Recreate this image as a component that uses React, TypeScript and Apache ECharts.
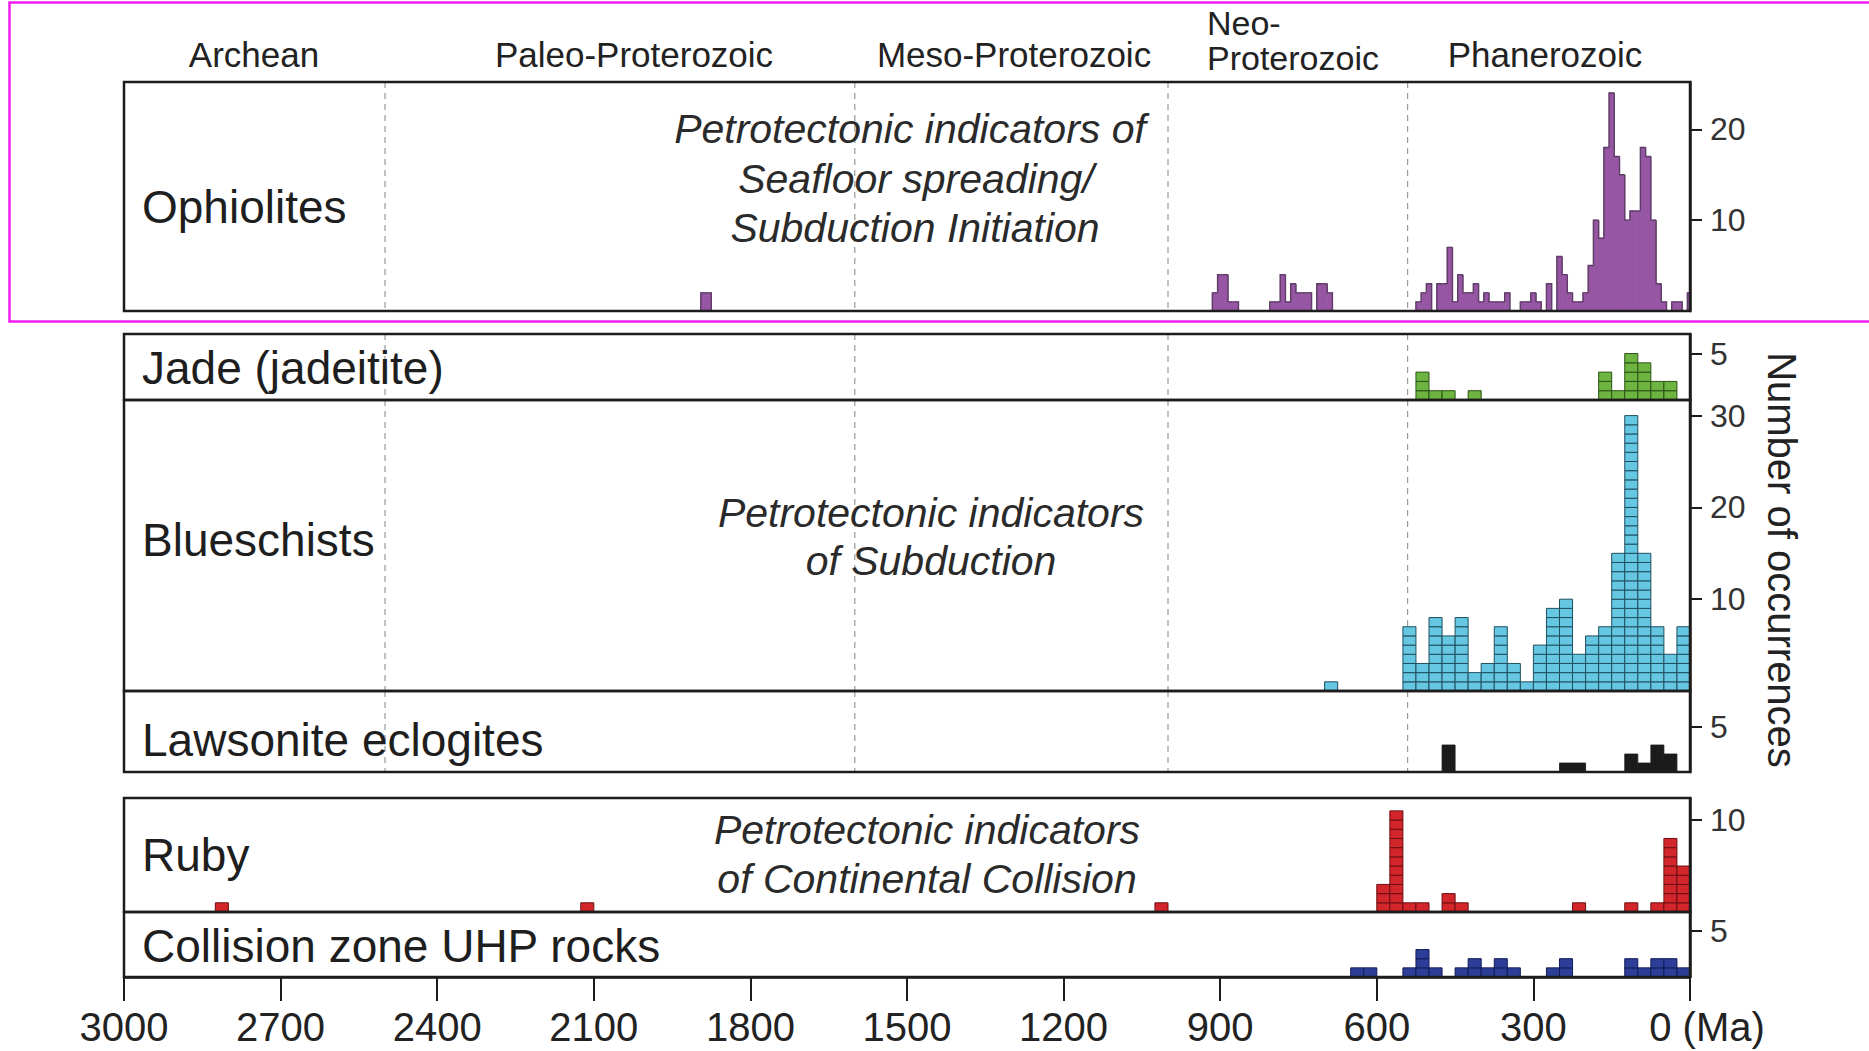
import React, { useEffect, useRef } from "react";
import * as echarts from "echarts";

const FONT = "'Liberation Sans', Arial, Helvetica, sans-serif";
const INK = "#1c1c1c";

// ---------- data ----------
const eraNames = ["Archean", "Paleo-Proterozoic", "Meso-Proterozoic", "Neo-", "Proterozoic", "Phanerozoic"];
const eraBoundaries = [2500, 1600, 1000, 541];

const panelNames = ["Ophiolites", "Jade (jadeitite)", "Blueschists", "Lawsonite eclogites", "Ruby", "Collision zone UHP rocks"];
const panelYMax = [25.2, 7.1, 31.7, 9.0, 12.4, 7.1];
const panelTicks = [[10, 20], [5], [10, 20, 30], [5], [10], [5]];

// Ophiolites: 10 Ma bins, bin centre ages (Ma) and counts
const OPH_BIN = 10;
const ophioliteAge = [
  1890, 1880,
  910, 900, 890, 880, 870, 800, 790, 780, 770, 760, 750, 740, 730, 710, 700, 690,
  520, 510, 500, 480, 470, 460, 450, 440, 430, 420, 410, 400, 390, 380, 370, 360, 350,
  320, 310, 300, 290, 270, 250, 240, 230, 220, 210, 200, 190, 180, 170, 160, 150, 140,
  130, 120, 110, 100, 90, 80, 70, 60, 50, 30, 20, 0,
];
const ophioliteCount = [
  2, 2,
  2, 4, 4, 1, 1, 1, 1, 4, 1, 3, 2, 2, 2, 3, 3, 2,
  1, 2, 3, 3, 3, 7, 1, 4, 2, 2, 3, 1, 2, 1, 1, 1, 2,
  1, 1, 2, 1, 3, 6, 4, 2, 1, 1, 2, 5, 10, 8, 18, 24, 17,
  15, 10, 11, 11, 18, 17, 10, 3, 1, 1, 1, 2,
];

// Other records: 25 Ma bins, younger edge of each bin (Ma) and counts
const BIN = 25;
const jadeAge = [500, 475, 450, 400, 150, 125, 100, 75, 50, 25];
const jadeCount = [3, 1, 1, 1, 3, 1, 5, 4, 2, 2];

const blueschistAge = [675, 525, 500, 475, 450, 425, 400, 375, 350, 325, 300, 275, 250, 225, 200, 175, 150, 125, 100, 75, 50, 25, 0];
const blueschistCount = [1, 7, 3, 8, 6, 8, 2, 3, 7, 3, 1, 5, 9, 10, 4, 6, 7, 15, 30, 15, 7, 4, 7];

const lawsoniteAge = [450, 225, 200, 100, 75, 50, 25];
const lawsoniteCount = [3, 1, 1, 2, 1, 3, 2];

const rubyAge = [2800, 2100, 1000, 575, 550, 525, 500, 450, 425, 200, 100, 50, 25, 0];
const rubyCount = [1, 1, 1, 3, 11, 1, 1, 2, 1, 1, 1, 1, 8, 5];

const uhpAge = [625, 600, 525, 500, 475, 425, 400, 375, 350, 325, 250, 225, 100, 75, 50, 25, 0];
const uhpCount = [1, 1, 1, 3, 1, 1, 2, 1, 2, 1, 1, 2, 2, 1, 2, 2, 1];

// ---------- layout ----------
const W = 1869;
const H = 1051;
const GRID_LEFT = 124;
const GRID_RIGHT = W - 1690;
const panelTop = [82, 334, 400, 691, 798, 912];
const panelHeight = [229, 66, 291, 81, 114, 65];
const panelLabelY = [207, 368, 540, 740, 855, 946];

function cellRenderer(fill: string, stroke: string, solid: boolean) {
  return (params: any, api: any) => {
    const a0 = api.value(0);
    const a1 = api.value(1);
    const n = api.value(2);
    const children: any[] = [];
    if (solid) {
      const p0 = api.coord([a0, 0]);
      const p1 = api.coord([a1, n]);
      children.push({
        type: "rect",
        shape: { x: Math.min(p0[0], p1[0]), y: Math.min(p0[1], p1[1]), width: Math.abs(p1[0] - p0[0]), height: Math.abs(p1[1] - p0[1]) },
        style: { fill, stroke, lineWidth: 0.8 },
      });
    } else {
      for (let k = 0; k < n; k++) {
        const p0 = api.coord([a0, k]);
        const p1 = api.coord([a1, k + 1]);
        children.push({
          type: "rect",
          shape: { x: Math.min(p0[0], p1[0]), y: Math.min(p0[1], p1[1]), width: Math.abs(p1[0] - p0[0]), height: Math.abs(p1[1] - p0[1]) },
          style: { fill, stroke, lineWidth: 1 },
        });
      }
    }
    return { type: "group", children };
  };
}

const ophMap = new Map<number, number>(ophioliteAge.map((a, i) => [a, ophioliteCount[i]]));

function ophioliteRenderer(params: any, api: any) {
  const young = api.value(0);
  const old = api.value(1);
  const h = api.value(2);
  const c = Math.round((young + old) / 2);
  const hOld = ophMap.get(c + OPH_BIN) || 0;
  const hYoung = ophMap.get(c - OPH_BIN) || 0;
  const pOld0 = api.coord([old, 0]);
  const pYoungH = api.coord([young, h]);
  const pts = [api.coord([old, hOld]), api.coord([old, h]), api.coord([young, h])];
  if (hYoung === 0) pts.push(api.coord([young, 0]));
  return {
    type: "group",
    children: [
      {
        type: "rect",
        shape: { x: pOld0[0], y: pYoungH[1], width: pYoungH[0] - pOld0[0], height: pOld0[1] - pYoungH[1] },
        style: { fill: "#9656a3", stroke: "#9656a3", lineWidth: 0.8 },
      },
      {
        type: "polyline",
        z2: 5,
        shape: { points: pts },
        style: { fill: "none", stroke: "#5e3d66", lineWidth: 1.4 },
      },
    ],
  };
}

function boundaryRenderer(params: any, api: any) {
  const x = api.coord([api.value(0), 0])[0];
  const cs = params.coordSys;
  return {
    type: "line",
    shape: { x1: x, y1: cs.y, x2: x, y2: cs.y + cs.height },
    style: { stroke: "#9a9a9a", lineWidth: 1.2, lineDash: [6, 5] },
  };
}

function buildOption() {
  const grid = panelTop.map((t, i) => ({
    left: GRID_LEFT,
    right: GRID_RIGHT,
    top: t,
    height: panelHeight[i],
    show: true,
    borderColor: INK,
    borderWidth: 2.5,
    backgroundColor: "rgba(0,0,0,0)",
    z: 10,
  }));

  const xAxis = panelTop.map((_, i) => ({
    type: "value",
    gridIndex: i,
    min: 0,
    max: 3000,
    interval: 300,
    inverse: true,
    show: i === panelTop.length - 1,
    z: 10,
    axisLine: { show: true, lineStyle: { color: INK, width: 2.5 } },
    axisTick: { show: true, inside: false, length: 24, lineStyle: { color: INK, width: 2 } },
    axisLabel: {
      show: true,
      showMinLabel: true,
      showMaxLabel: true,
      fontSize: 40,
      fontFamily: FONT,
      color: "#222",
      margin: 30,
      formatter: (v: number) => (v === 0 ? "{ma|0 (Ma)}" : String(v)),
      rich: { ma: { fontSize: 40, fontFamily: FONT, color: "#222", padding: [0, 0, 0, 34] } },
    },
    splitLine: { show: false },
  }));

  const yAxis = panelTop.map((_, i) => ({
    type: "value",
    gridIndex: i,
    position: "right",
    min: 0,
    max: panelYMax[i],
    z: 10,
    axisLine: { show: true, lineStyle: { color: INK, width: 2.5 } },
    axisTick: { show: true, inside: false, length: 12, customValues: panelTicks[i], lineStyle: { color: INK, width: 2 } },
    axisLabel: { show: true, customValues: panelTicks[i], fontSize: 32, fontFamily: FONT, color: "#333", margin: 20 },
    splitLine: { show: false },
  }));

  const series: any[] = [];
  for (let i = 0; i < 4; i++) {
    series.push({
      type: "custom",
      name: "boundary" + i,
      xAxisIndex: i,
      yAxisIndex: i,
      z: 1,
      silent: true,
      data: eraBoundaries.map((b) => [b, 0]),
      encode: { x: 0, y: 1 },
      renderItem: boundaryRenderer,
    });
  }
  series.push({
    type: "custom",
    name: "Ophiolites",
    xAxisIndex: 0,
    yAxisIndex: 0,
    clip: true,
    z: 3,
    data: ophioliteAge.map((a, i) => [a - OPH_BIN / 2, a + OPH_BIN / 2, ophioliteCount[i]]),
    encode: { x: [0, 1], y: 2 },
    renderItem: ophioliteRenderer,
  });
  const cellSets: [string, number[], number[], number, string, string, boolean][] = [
    ["Jade", jadeAge, jadeCount, 1, "#6db440", "#2d5218", false],
    ["Blueschists", blueschistAge, blueschistCount, 2, "#66c7e3", "#1e4f5e", false],
    ["Lawsonite eclogites", lawsoniteAge, lawsoniteCount, 3, "#1b1b1b", "#1b1b1b", true],
    ["Ruby", rubyAge, rubyCount, 4, "#d3262b", "#6c0e12", false],
    ["UHP", uhpAge, uhpCount, 5, "#2c3e98", "#121b57", false],
  ];
  for (const [name, ages, counts, gi, fill, stroke, solid] of cellSets) {
    series.push({
      type: "custom",
      name,
      xAxisIndex: gi,
      yAxisIndex: gi,
      clip: true,
      z: 3,
      data: ages.map((a, i) => [a, a + BIN, counts[i]]),
      encode: { x: [0, 1], y: 2 },
      renderItem: cellRenderer(fill, stroke, solid),
    });
  }

  const textStyle = (size: number, extra: any = {}) => ({ fontSize: size, fontFamily: FONT, fill: "#1e1e1e", ...extra });

  const eraPos: [number, number, string, number][] = [
    [254, 54, "center", 35],
    [634, 54, "center", 35],
    [1014, 54, "center", 35],
    [1207, 23, "left", 34],
    [1207, 58, "left", 34],
    [1545, 54, "center", 35],
  ];

  const graphic: any[] = [
    {
      type: "rect",
      shape: { x: 9.5, y: 2.5, width: 1890, height: 319 },
      style: { fill: "none", stroke: "#f01ef0", lineWidth: 2.5 },
      z: 100,
      silent: true,
    },
  ];
  eraNames.forEach((name, i) => {
    graphic.push({
      type: "text",
      x: eraPos[i][0],
      y: eraPos[i][1],
      style: textStyle(eraPos[i][3], { text: name, align: eraPos[i][2], verticalAlign: "middle", fill: "#222" }),
    });
  });
  panelNames.forEach((name, i) => {
    graphic.push({
      type: "text",
      x: 142,
      y: panelLabelY[i],
      z: 20,
      style: textStyle(46, { text: name, align: "left", verticalAlign: "middle" }),
    });
  });
  const italicLines: [string, number, number][] = [
    ["Petrotectonic indicators of", 910, 129],
    ["Seafloor spreading/", 916, 179],
    ["Subduction Initiation", 915, 228],
    ["Petrotectonic indicators", 931, 513],
    ["of Subduction", 931, 561],
    ["Petrotectonic indicators", 927, 830],
    ["of Continental Collision", 927, 879],
  ];
  italicLines.forEach(([t, x, y]) => {
    graphic.push({
      type: "text",
      x,
      y,
      z: 20,
      style: textStyle(41, { text: t, align: "center", verticalAlign: "middle", fontStyle: "italic", fill: "#2a2a2a" }),
    });
  });
  graphic.push({
    type: "text",
    x: 1782,
    y: 560,
    rotation: -Math.PI / 2,
    style: textStyle(40, { text: "Number of occurrences", align: "center", verticalAlign: "middle", fill: "#222" }),
  });

  return {
    animation: false,
    backgroundColor: "#ffffff",
    textStyle: { fontFamily: FONT },
    grid,
    xAxis,
    yAxis,
    series,
    graphic,
  };
}

export default function App() {
  const ref = useRef<HTMLDivElement>(null);
  useEffect(() => {
    if (!ref.current) return;
    const chart = echarts.init(ref.current, undefined, { renderer: "svg", width: W, height: H });
    chart.setOption(buildOption() as any);
    return () => {
      chart.dispose();
    };
  }, []);
  return <div ref={ref} style={{ position: "absolute", left: 0, top: 0, width: W, height: H, background: "#fff" }} />;
}
